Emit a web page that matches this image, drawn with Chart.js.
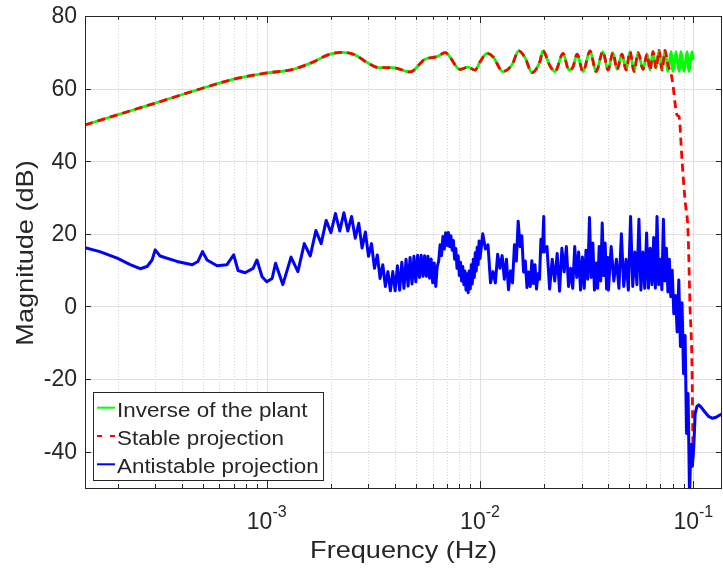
<!DOCTYPE html>
<html>
<head>
<meta charset="utf-8">
<title>Bode magnitude</title>
<script src="https://cdn.jsdelivr.net/npm/chart.js"></script>
<style>
  html, body { margin: 0; padding: 0; background: #fff; }
  #bode { display: block; }
</style>
</head>
<body>
<canvas id="bode" width="723" height="575"></canvas>
<script>
/* Data (frequency in Hz, magnitude in dB) */
const plantFreq = [
  1.406e-4, 2.0e-4, 3.0e-4, 5.0e-4, 7.0e-4, 1.0e-3, 1.33e-3, 1.63e-3, 1.98e-3, 2.28e-3,
  2.59e-3, 2.99e-3, 3.33e-3, 3.91e-3, 4.70e-3, 5.52e-3, 6.29e-3, 6.86e-3, 8.06e-3, 8.78e-3,
  9.48e-3, 0.0100, 0.0108, 0.0115, 0.0128, 0.0141, 0.0152, 0.0163, 0.0175, 0.0191,
  0.0197, 0.0213, 0.0225, 0.0245, 0.0261, 0.0273, 0.0285, 0.0304, 0.0328, 0.0350,
  0.0377, 0.0398, 0.0420, 0.0439, 0.0463, 0.0484, 0.0505, 0.0527, 0.0551, 0.0581,
  0.0607, 0.0627, 0.0647, 0.0669, 0.0691, 0.0713, 0.0737, 0.0761, 0.0786, 0.0803,
  0.0830, 0.0857, 0.0876, 0.0905, 0.0934, 0.0955, 0.0986, 0.1000
];
const plantMag = [
  50.0, 52.8, 56.0, 60.1, 62.6, 64.3, 65.3, 67.2, 69.5, 70.0,
  69.3, 67.0, 65.8, 65.8, 64.6, 68.1, 68.8, 69.9, 65.3, 65.9,
  65.1, 67.4, 69.7, 68.8, 64.7, 66.5, 70.4, 68.4, 64.4, 67.5,
  70.4, 66.2, 64.7, 69.7, 65.1, 66.0, 69.5, 64.7, 70.4, 64.7,
  70.2, 65.1, 69.9, 65.3, 69.5, 65.1, 70.2, 64.7, 69.9, 65.3,
  69.5, 65.1, 70.2, 65.6, 70.5, 65.1, 70.5, 64.7, 70.2, 64.7,
  70.2, 64.7, 70.2, 64.7, 70.2, 64.7, 70.2, 67.9
];

// stable projection follows the plant up to here, then rolls off
const stableSplitFreq = 0.0737;
const stableTailFreq = [0.0761, 0.0786, 0.0803, 0.0821, 0.0839, 0.0857, 0.0885, 0.0914, 0.0945, 0.0965, 0.0986, 0.0997];
const stableTailMag = [66.5, 64.2, 61.0, 56.0, 52.7, 52.3, 40.4, 29.4, 20.3, 0.0, -16.6, -42.2];

const antiFreq = [
  // low band with resonance cusps
  1.406e-4, 1.65e-4, 1.99e-4, 2.29e-4, 2.55e-4, 2.75e-4, 2.90e-4, 3.00e-4, 3.16e-4, 3.80e-4,
  4.47e-4, 4.76e-4, 5.00e-4, 5.25e-4, 5.85e-4, 6.51e-4, 7.00e-4, 7.34e-4, 7.91e-4, 8.63e-4,
  9.00e-4, 9.51e-4, 1.00e-3, 1.06e-3, 1.10e-3, 1.19e-3, 1.30e-3, 1.40e-3,
  // teeth
  0.0015, 0.0016, 0.0017, 0.0018, 0.0019, 0.0020, 0.0021, 0.0022, 0.0023, 0.0024,
  0.0025, 0.0026, 0.0027, 0.0028, 0.0029, 0.0030, 0.0031, 0.0032, 0.0033, 0.0034,
  0.0035, 0.0036, 0.0037, 0.0038, 0.0039, 0.0040, 0.0041, 0.0042, 0.0043, 0.0044,
  0.0045, 0.0046, 0.0047, 0.0048, 0.0049, 0.0050, 0.0051, 0.0052, 0.0053, 0.0054,
  0.0055, 0.0056, 0.0057, 0.0058, 0.0059, 0.0060, 0.0061, 0.0062, 0.0063,
  0.0064, 0.0065, 0.0066, 0.0067, 0.0068, 0.0069, 0.0070, 0.0071, 0.0072, 0.0073,
  0.0074, 0.0075, 0.0076, 0.0077, 0.0078, 0.0079, 0.0080, 0.0081, 0.0082, 0.0083,
  0.0084, 0.0085, 0.0086, 0.0087, 0.0088, 0.0089, 0.0090, 0.0091, 0.0092, 0.0093,
  0.0094, 0.0095, 0.0096, 0.0097, 0.0098, 0.0099, 0.0100,
  // dense band
  0.0103, 0.0106, 0.0109, 0.0112, 0.0115, 0.0118, 0.0121, 0.0124, 0.0127, 0.0130,
  0.0133, 0.0136, 0.0139, 0.0142, 0.0145, 0.0148, 0.0151, 0.0154, 0.0157, 0.0160,
  0.0163, 0.0166, 0.0169, 0.0172, 0.0175, 0.0178, 0.0181, 0.0184, 0.0187, 0.0190,
  0.0193, 0.0196, 0.0199,
  0.0200, 0.0206, 0.0212, 0.0218, 0.0224, 0.0230, 0.0236, 0.0242, 0.0248, 0.0254,
  0.0260, 0.0266, 0.0272, 0.0278, 0.0284, 0.0290, 0.0296, 0.0302, 0.0308, 0.0314,
  0.0320, 0.0326, 0.0332, 0.0338, 0.0344, 0.0350, 0.0356, 0.0362, 0.0368, 0.0374,
  0.0380, 0.0386, 0.0392, 0.0398,
  0.0400, 0.0412, 0.0424, 0.0436, 0.0448, 0.0460, 0.0472, 0.0484, 0.0496, 0.0508,
  0.0520, 0.0532, 0.0544, 0.0556, 0.0568, 0.0580, 0.0592, 0.0604, 0.0616, 0.0628,
  0.0640, 0.0652, 0.0664, 0.0676, 0.0688, 0.0700, 0.0712, 0.0724, 0.0736, 0.0748,
  0.0760, 0.0772, 0.0784, 0.0796,
  // roll-off and tail
  0.0810, 0.0825, 0.0840, 0.0855, 0.0870, 0.0885, 0.0900, 0.0915, 0.0930, 0.0945,
  0.0960, 0.0975, 0.0990, 0.1005, 0.1020, 0.1040, 0.1060, 0.1090, 0.1130, 0.1180,
  0.1230, 0.1280, 0.1330, 0.1365
];
const antiMag = [
  16.2, 15.1, 13.3, 11.5, 10.4, 11.0, 12.8, 15.6, 13.9, 12.4,
  11.5, 12.4, 15.1, 12.8, 11.2, 11.5, 14.2, 9.9, 9.3, 10.5,
  12.8, 8.2, 6.8, 7.7, 11.9, 6.0, 13.6, 9.6,

  17.3, 13.9, 20.9, 17.3, 23.7, 20.3, 25.6, 20.8, 25.8, 20.8,
  24.8, 18.8, 22.9, 16.1, 20.5, 13.8, 17.3, 10.5, 14.2, 7.7,
  11.5, 5.5, 9.6, 4.3, 9.6, 4.3, 11.2, 4.5, 12.2, 5.0,
  13.0, 5.6, 13.5, 6.2, 13.8, 6.8, 14.1, 8.0, 14.1, 8.3,
  14.0, 8.3, 13.8, 7.8, 13.1, 6.5, 12.0, 5.5, 11.0,
  12.5, 17.0, 14.0, 19.3, 15.8, 20.3, 16.8, 20.4, 16.5, 19.5,
  15.5, 18.2, 13.0, 16.0, 10.5, 14.0, 8.5, 12.2, 7.0, 11.0,
  6.0, 9.8, 4.5, 9.0, 3.8, 9.8, 4.8, 11.5, 6.2, 13.0,
  8.0, 14.8, 9.8, 16.3, 11.5, 18.0, 13.2,

  20.0, 15.8, 17.0, 6.5, 9.6, 6.5, 14.4, 10.5, 14.0, 7.5,
  13.0, 4.6, 9.8, 6.5, 17.0, 12.5, 23.5, 16.5, 19.5, 9.5,
  12.5, 5.2, 9.5, 5.5, 12.6, 6.3, 11.5, 4.8, 9.0, 7.5,
  18.5, 15.0, 24.8,
  15.0, 16.5, 4.8, 13.0, 7.0, 14.6, 4.2, 16.0, 9.5, 16.5,
  5.5, 10.5, 5.0, 16.5, 8.0, 15.0, 4.5, 13.6, 5.0, 15.5,
  7.5, 24.5, 8.0, 17.5, 4.5, 12.0, 5.0, 16.5, 7.0, 23.0,
  8.5, 17.5, 4.8, 13.5,
  4.5, 16.5, 7.0, 13.0, 5.0, 20.0, 5.5, 13.0, 4.5, 24.8,
  5.5, 15.0, 6.0, 24.0, 4.5, 15.0, 5.0, 20.2, 5.0, 16.0,
  6.0, 19.0, 5.0, 24.8, 6.0, 13.0, 4.6, 24.0, 7.0, 16.0,
  4.0, 13.0, 2.7, 10.0,

  -2.0, 3.0, -7.0, 7.3, -11.0, 1.0, -18.5, -8.0, -35.0, -24.0,
  -52.0, -38.0, -44.0, -38.6, -29.5, -27.5, -27.1, -27.8, -29.0, -30.3,
  -30.8, -30.5, -29.9, -29.6
];

/* Axis ticks */
const xMin = 1.406e-4;
const xMax = 0.1363;
const xMajorTicks = [1e-3, 1e-2, 1e-1];
const xTickExponents = ['-3', '-2', '-1'];
const xMinorTicks = [
  2e-4, 3e-4, 4e-4, 5e-4, 6e-4, 7e-4, 8e-4, 9e-4,
  2e-3, 3e-3, 4e-3, 5e-3, 6e-3, 7e-3, 8e-3, 9e-3,
  2e-2, 3e-2, 4e-2, 5e-2, 6e-2, 7e-2, 8e-2, 9e-2
];
const yTicks = [80, 60, 40, 20, 0, -20, -40];

const FONT = '"Liberation Sans", Arial, Helvetica, sans-serif';
const INK = '#262626';

function toPoints(freqs, mags) {
  return freqs.map((f, i) => ({ x: f, y: mags[i] }));
}

const plantPoints = toPoints(plantFreq, plantMag);
const stablePoints = plantPoints
  .filter((p) => p.x <= stableSplitFreq)
  .concat(toPoints(stableTailFreq, stableTailMag));
const antiPoints = toPoints(antiFreq, antiMag);

// canvas text, optionally stretched sideways / rotated
function drawText(ctx, text, x, y, size, opts = {}) {
  ctx.save();
  ctx.translate(x, y);
  if (opts.rotate) ctx.rotate(opts.rotate);
  ctx.scale(opts.stretch || 1, 1);
  ctx.font = size + 'px ' + FONT;
  ctx.textAlign = opts.align || 'left';
  ctx.textBaseline = opts.baseline || 'alphabetic';
  ctx.fillStyle = INK;
  ctx.fillText(text, 0, 0);
  ctx.restore();
}

function line(ctx, x1, y1, x2, y2) {
  ctx.beginPath();
  ctx.moveTo(x1, y1);
  ctx.lineTo(x2, y2);
  ctx.stroke();
}

const snap = (v) => Math.round(v) + 0.5;

/* MATLAB-like axes: grid, box, inner ticks, labels and legend */
const matlabAxes = {
  id: 'matlabAxes',
  beforeDatasetsDraw(chart) {
    const { ctx, chartArea: a, scales: { x, y } } = chart;
    ctx.save();
    ctx.lineWidth = 1;
    ctx.strokeStyle = '#d2d2d2';
    ctx.setLineDash([1, 2]);
    xMinorTicks.forEach((v) => {
      const px = snap(x.getPixelForValue(v));
      line(ctx, px, a.top, px, a.bottom);
    });
    ctx.setLineDash([]);
    ctx.strokeStyle = '#dfdfdf';
    xMajorTicks.forEach((v) => {
      const px = snap(x.getPixelForValue(v));
      line(ctx, px, a.top, px, a.bottom);
    });
    yTicks.forEach((v) => {
      const py = snap(y.getPixelForValue(v));
      line(ctx, a.left, py, a.right, py);
    });
    ctx.restore();
  },
  afterDatasetsDraw(chart) {
    const { ctx, chartArea: a, scales: { x, y } } = chart;
    ctx.save();
    ctx.lineWidth = 1;
    ctx.strokeStyle = INK;
    ctx.strokeRect(a.left + 0.5, a.top + 0.5, a.right - a.left - 1, a.bottom - a.top);

    // ticks point inwards on all four sides
    xMinorTicks.forEach((v) => {
      const px = snap(x.getPixelForValue(v));
      line(ctx, px, a.bottom, px, a.bottom - 4);
      line(ctx, px, a.top, px, a.top + 4);
    });
    xMajorTicks.forEach((v) => {
      const px = snap(x.getPixelForValue(v));
      line(ctx, px, a.bottom, px, a.bottom - 7);
      line(ctx, px, a.top, px, a.top + 7);
    });
    yTicks.forEach((v) => {
      const py = snap(y.getPixelForValue(v));
      line(ctx, a.left, py, a.left + 6, py);
      line(ctx, a.right, py, a.right - 6, py);
    });

    // tick labels
    yTicks.forEach((v) => {
      drawText(ctx, String(v), 77, y.getPixelForValue(v) + 1, 23, { align: 'right', baseline: 'middle' });
    });
    xMajorTicks.forEach((v, i) => {
      const px = x.getPixelForValue(v);
      ctx.font = '23px ' + FONT;
      const wBase = ctx.measureText('10').width;
      ctx.font = '16px ' + FONT;
      const wExp = ctx.measureText(xTickExponents[i]).width;
      const left = px - (wBase + wExp) / 2;
      drawText(ctx, '10', left, 529, 23);
      drawText(ctx, xTickExponents[i], left + wBase, 517, 16);
    });

    // axis titles
    drawText(ctx, 'Frequency (Hz)', (a.left + a.right) / 2, 558, 24, { align: 'center', stretch: 1.13 });
    drawText(ctx, 'Magnitude (dB)', 33, (a.top + a.bottom) / 2 + 1, 24, {
      align: 'center', rotate: -Math.PI / 2, stretch: 1.13
    });

    // legend box, lower left
    ctx.fillStyle = '#fff';
    ctx.fillRect(93.5, 392.5, 230, 88);
    ctx.strokeStyle = INK;
    ctx.strokeRect(93.5, 392.5, 230, 88);
    chart.data.datasets.forEach((ds, i) => {
      const base = 416.7 + i * 28.3;
      ctx.save();
      ctx.strokeStyle = ds.borderColor;
      ctx.lineWidth = 2;
      ctx.setLineDash(ds.borderDash ? [5, 8] : []);
      line(ctx, 97, base - 9, 115, base - 9);
      ctx.restore();
      drawText(ctx, ds.label, 117, base, 20, { stretch: 1.12 });
    });
    ctx.restore();
  }
};

const ctx = document.getElementById('bode').getContext('2d');

const bodeChart = new Chart(ctx, {
  type: 'line',
  data: {
    datasets: [
      {
        label: 'Inverse of the plant',
        data: plantPoints,
        borderColor: '#00ff00',
        borderWidth: 2.8,
        pointRadius: 0,
        tension: 0.4,
        cubicInterpolationMode: 'monotone',
        order: 3
      },
      {
        label: 'Stable projection',
        data: stablePoints,
        borderColor: '#ff0000',
        borderWidth: 2.8,
        borderDash: [8, 5],
        pointRadius: 0,
        tension: 0.4,
        cubicInterpolationMode: 'monotone',
        order: 2
      },
      {
        label: 'Antistable projection',
        data: antiPoints,
        borderColor: '#0000ff',
        borderWidth: 3,
        borderJoinStyle: 'round',
        pointRadius: 0,
        tension: 0,
        order: 1
      }
    ]
  },
  options: {
    responsive: false,
    devicePixelRatio: 1,
    animation: false,
    layout: { padding: { left: 85, top: 16, right: 1, bottom: 87 } },
    scales: {
      x: { type: 'logarithmic', min: xMin, max: xMax, display: false },
      y: { type: 'linear', min: -50, max: 80, display: false }
    },
    plugins: {
      legend: { display: false },
      tooltip: { enabled: false }
    }
  },
  plugins: [matlabAxes]
});
</script>
</body>
</html>
